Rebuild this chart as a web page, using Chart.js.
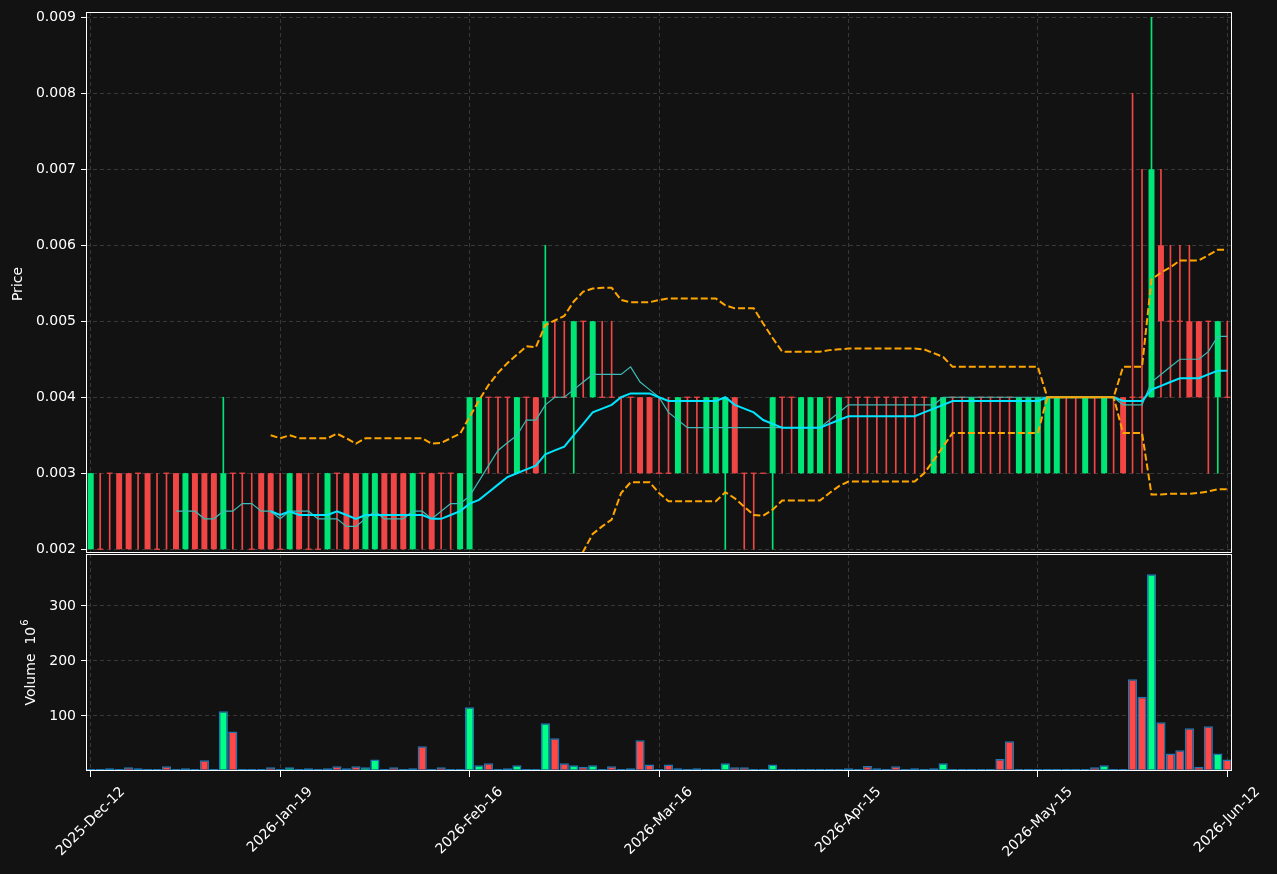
<!DOCTYPE html>
<html><head><meta charset="utf-8">
<script src="https://cdn.jsdelivr.net/npm/chart.js@4.4.1/dist/chart.umd.min.js"></script>
<style>
html,body{margin:0;padding:0;background:#121212;width:1277px;height:874px;overflow:hidden}
#a{position:absolute;left:0;top:0}
#b{position:absolute;left:0;top:553px}
</style></head><body>
<canvas id="a" width="1277" height="554"></canvas>
<canvas id="b" width="1277" height="321"></canvas>
<script>
// ---- data (prices in units of 0.001) ----
const PRICE_UNIT = 0.001;
const tickLabels = ['2025-Dec-12','2026-Jan-19','2026-Feb-16','2026-Mar-16','2026-Apr-15','2026-May-15','2026-Jun-12'];
const tickStep = 20;
const priceTicks = [0.002, 0.003, 0.004, 0.005, 0.006, 0.007, 0.008, 0.009];
const volumeTicks = [100, 200, 300];

const opens = [
 2,2,3,3,3,3,3,2,3,3, 2,3,3,3,2,3,3,2,3,3, 2,2,3,2,2,2,3,3,3,2, 2,3,3,3,2,3,3,3,3,2,
 2,3,4,4,4,3,4,4,4,4, 4,4,5,4,4,4,4,4,4,4, 3,3,3,4,4,3,3,3,4,3, 3,3,3,4,4,3,3,3,4,3,
 4,4,4,4,4,4,4,4,4,3, 3,4,4,3,4,4,4,4,3,3, 3,3,3,4,4,3,4,3,4,4, 4,4,4,6,5,5,5,5,5,4,4];
const highs = [
 3,3,3,3,3,3,3,3,3,3, 3,3,3,3,4,3,3,3,3,3, 3,3,3,3,3,3,3,3,3,3, 3,3,3,3,3,3,3,3,3,3,
 4,4,4,4,4,4,4,4,6,5, 5,5,5,5,5,5,4,4,4,4, 4,4,4,4,4,4,4,4,4,3, 3,3,4,4,4,4,4,4,4,4,
 4,4,4,4,4,4,4,4,4,4, 4,4,4,4,4,4,4,4,4,4, 4,4,4,4,4,4,4,4,4,4, 8,7,9,7,6,6,6,5,5,5,5];
const lows = [
 2,2,2,2,2,2,2,2,2,2, 2,2,2,2,2,2,2,2,2,2, 2,2,2,2,2,2,2,2,2,2, 2,2,2,2,2,2,2,2,2,2,
 2,3,3,3,3,3,3,3,3,4, 4,3,4,4,4,4,3,3,3,3, 3,3,3,3,3,3,3,2,3,2, 2,3,2,3,3,3,3,3,3,3,
 3,3,3,3,3,3,3,3,3,3, 3,3,3,3,3,3,3,3,3,3, 3,3,3,3,3,3,3,3,3,3, 3,3,4,4,4,4,4,4,3,3,4];
const closes = [
 3,2,3,2,2,3,2,2,3,2, 3,2,2,2,3,3,3,2,2,2, 2,3,2,2,2,3,3,2,2,3, 3,2,2,2,3,3,2,3,3,3,
 4,4,4,4,4,4,4,3,5,4, 4,5,5,5,4,4,4,4,3,3, 3,3,4,4,4,4,4,4,3,3, 3,3,4,4,4,4,4,4,4,4,
 4,4,4,4,4,4,4,4,4,4, 4,4,4,4,4,4,4,4,4,4, 4,4,4,4,4,4,4,4,4,3, 4,4,7,5,5,5,4,4,5,5,4];
// volume in millions
const volumes = [
 0.3,0.8,4.8,3,6.7,5,3,3,8.5,3, 5,1,19.4,3,108.5,72,3,3,1,6.7,
 1,6.7,3,5,1,5,8.5,5,8.5,6.7, 21,1,6.7,3,5,45,3,6.7,3,3,
 116,10.3,14,3,5,10.3,0.5,0.5,86.7,59.4, 14,10.3,7.9,10.3,3,8.5,3,5,55.8,12,
 3,12,5,3,4.8,3,0.5,14,6.7,6.7, 3,0.5,12,0.3,3,3,0.3,0.3,0.3,0.3,
 4.8,0.3,9,4.8,0.5,8.5,3,4.8,3,4.8, 14,3,0.5,0.5,3,0.5,21.8,54,0.5,0.5,
 0.5,3,0.5,1.5,0.5,3,6.7,10.3,0.5,3, 166.7,135,357.6,88.5,32,37.6,77.6,7.9,81.2,32,21];
const N9 = [null,null,null,null,null,null,null,null,null];
const ma10 = [...N9,
 2.5, 2.5,2.5,2.4,2.4,2.5,2.5,2.6,2.6,2.5,2.5,
 2.4,2.5,2.5,2.5,2.4,2.4,2.4,2.3,2.3,2.4,
 2.5,2.4,2.4,2.4,2.5,2.5,2.4,2.5,2.6,2.6,
 2.7,2.9,3.1,3.3,3.4,3.5,3.7,3.7,3.9,4.0,
 4.0,4.1,4.2,4.3,4.3,4.3,4.3,4.4,4.2,4.1,
 4.0,3.8,3.7,3.6,3.6,3.6,3.6,3.6,3.6,3.6,
 3.6,3.6,3.6,3.6,3.6,3.6,3.6,3.6,3.7,3.8,
 3.9,3.9,3.9,3.9,3.9,3.9,3.9,3.9,3.9,3.9,
 4.0,4.0,4.0,4.0,4.0,4.0,4.0,4.0,4.0,4.0,
 4.0,4.0,4.0,4.0,4.0,4.0,4.0,4.0,4.0,3.9,
 3.9,3.9,4.2,4.3,4.4,4.5,4.5,4.5,4.6,4.8,4.8];
const N19 = [...N9, null,null,null,null,null,null,null,null,null,null];
const ma20 = [...N19,
 2.5,
 2.45,2.5,2.45,2.45,2.45,2.45,2.5,2.45,2.4,2.45,
 2.45,2.45,2.45,2.45,2.45,2.45,2.4,2.4,2.45,2.5,
 2.6,2.65,2.75,2.85,2.95,3.0,3.05,3.1,3.25,3.3,
 3.35,3.5,3.65,3.8,3.85,3.9,4.0,4.05,4.05,4.05,
 4.0,3.95,3.95,3.95,3.95,3.95,3.95,4.0,3.9,3.85,
 3.8,3.7,3.65,3.6,3.6,3.6,3.6,3.6,3.65,3.7,
 3.75,3.75,3.75,3.75,3.75,3.75,3.75,3.75,3.8,3.85,
 3.9,3.95,3.95,3.95,3.95,3.95,3.95,3.95,3.95,3.95,
 3.95,4.0,4.0,4.0,4.0,4.0,4.0,4.0,4.0,3.95,
 3.95,3.95,4.1,4.15,4.2,4.25,4.25,4.25,4.3,4.35,4.35];
const bbUpper = [...N19,
 3.50,
 3.46,3.50,3.46,3.46,3.46,3.46,3.52,3.46,3.39,3.46,
 3.46,3.46,3.46,3.46,3.46,3.46,3.39,3.40,3.46,3.52,
 3.74,3.96,4.16,4.32,4.45,4.56,4.67,4.66,4.95,5.01,
 5.07,5.26,5.39,5.43,5.44,5.44,5.28,5.25,5.25,5.25,
 5.28,5.30,5.30,5.30,5.30,5.30,5.30,5.21,5.17,5.17,
 5.17,4.97,4.78,4.60,4.60,4.60,4.60,4.60,4.62,4.63,
 4.64,4.64,4.64,4.64,4.64,4.64,4.64,4.64,4.63,4.58,
 4.53,4.40,4.40,4.40,4.40,4.40,4.40,4.40,4.40,4.40,
 4.40,4.00,4.00,4.00,4.00,4.00,4.00,4.00,4.00,4.40,
 4.40,4.40,5.55,5.64,5.71,5.80,5.80,5.80,5.87,5.94,5.94];
const bbLower = [...N19,
 1.50,
 1.44,1.50,1.44,1.44,1.44,1.44,1.48,1.44,1.41,1.44,
 1.44,1.44,1.44,1.44,1.44,1.44,1.41,1.40,1.44,1.48,
 1.46,1.34,1.34,1.38,1.45,1.44,1.43,1.54,1.55,1.59,
 1.63,1.80,1.97,2.20,2.30,2.39,2.74,2.88,2.88,2.88,
 2.74,2.63,2.63,2.63,2.63,2.63,2.63,2.75,2.67,2.56,
 2.45,2.44,2.52,2.64,2.64,2.64,2.64,2.64,2.74,2.83,
 2.89,2.89,2.89,2.89,2.89,2.89,2.89,2.89,3.00,3.17,
 3.35,3.53,3.53,3.53,3.53,3.53,3.53,3.53,3.53,3.53,
 3.53,4.00,4.00,4.00,4.00,4.00,4.00,4.00,4.00,3.53,
 3.53,3.53,2.72,2.72,2.73,2.73,2.73,2.74,2.76,2.79,2.79];

// ---- build ----
const n = closes.length;
const categories = Array.from({length:n}, (_, i) => i % tickStep === 0 ? tickLabels[i / tickStep] : String(i));
const P = v => v == null ? null : v * PRICE_UNIT;
const isUp = i => opens[i] < closes[i];
const candleColors = closes.map((c, i) => isUp(i) ? '#00e676' : '#f04646');
const volColors = closes.map((c, i) => isUp(i) ? '#00ff88' : '#ff4848');
const DOJI = 0.000008;
const bodies = closes.map((c, i) => {
  const lo = Math.min(opens[i], c), hi = Math.max(opens[i], c);
  return lo === hi ? [P(lo) - DOJI, P(hi) + DOJI] : [P(lo), P(hi)];
});
const wicks = closes.map((c, i) => [P(lows[i]), P(highs[i])]);

const FONT = {family: "'DejaVu Sans', sans-serif", size: 14};
const GRID = 'rgba(255,255,255,0.16)';
const DASH = [4, 3];

const frame = {
  id: 'frame',
  afterDraw(chart) {
    const {ctx, chartArea: a} = chart;
    ctx.save();
    ctx.strokeStyle = '#ffffff';
    ctx.lineWidth = 1;
    const l = Math.round(a.left) + 0.5, t = Math.round(a.top) + 0.5;
    const r = Math.round(a.right) - 0.5, b = Math.round(a.bottom) - 0.5;
    ctx.strokeRect(l, t, r - l, b - t);
    ctx.restore();
  }
};
const priceTitle = {
  id: 'priceTitle',
  afterDraw(chart) {
    const ctx = chart.ctx;
    ctx.save();
    ctx.translate(18, 284);
    ctx.rotate(-Math.PI / 2);
    ctx.font = "14px 'DejaVu Sans', sans-serif";
    ctx.fillStyle = '#ffffff';
    ctx.textAlign = 'center';
    ctx.textBaseline = 'middle';
    ctx.fillText('Price', 0, 0);
    ctx.restore();
  }
};
const volDecor = {
  id: 'volDecor',
  afterDraw(chart) {
    const {ctx, chartArea: a} = chart;
    const xs = chart.scales.x;
    ctx.save();
    ctx.fillStyle = '#ffffff';
    ctx.font = "14px 'DejaVu Sans', sans-serif";
    tickLabels.forEach((t, k) => {
      const x = xs.getPixelForValue(k * tickStep);
      const w = ctx.measureText(t).width;
      const cy = a.bottom + 15 + (w + 10) * 0.3536;
      ctx.save();
      ctx.translate(x, cy);
      ctx.rotate(-Math.PI / 4);
      ctx.textAlign = 'center';
      ctx.textBaseline = 'middle';
      ctx.fillText(t, 0, 0);
      ctx.restore();
    });
    const main = 'Volume  10', sup = '6';
    ctx.font = "14px 'DejaVu Sans', sans-serif";
    const wm = ctx.measureText(main).width;
    ctx.font = "10px 'DejaVu Sans', sans-serif";
    const ws = ctx.measureText(sup).width;
    const tot = wm + ws + 1;
    ctx.translate(31, (a.top + a.bottom) / 2);
    ctx.rotate(-Math.PI / 2);
    ctx.textBaseline = 'middle';
    ctx.textAlign = 'left';
    ctx.font = "14px 'DejaVu Sans', sans-serif";
    ctx.fillText(main, -tot / 2, 0);
    ctx.font = "10px 'DejaVu Sans', sans-serif";
    ctx.fillText(sup, -tot / 2 + wm + 1, -6);
    ctx.restore();
  }
};

const xGridColor = c => (c.index % tickStep === 0 ? GRID : 'rgba(0,0,0,0)');
const xTickColor = c => (c.index % tickStep === 0 ? '#ffffff' : 'rgba(0,0,0,0)');
const noPad = s => { s.paddingTop = 0; s.paddingBottom = 0; s.paddingLeft = 0; s.paddingRight = 0; };

new Chart(document.getElementById('a'), {
  type: 'bar',
  data: {
    labels: categories,
    datasets: [
      {type: 'line', data: bbUpper.map(P), borderColor: '#ffa500', borderWidth: 2, borderDash: [7, 3], pointRadius: 0, tension: 0, order: 0},
      {type: 'line', data: bbLower.map(P), borderColor: '#ffa500', borderWidth: 2, borderDash: [7, 3], pointRadius: 0, tension: 0, order: 0},
      {type: 'line', data: ma20.map(P), borderColor: '#00e5ff', borderWidth: 2, pointRadius: 0, tension: 0, order: 1},
      {type: 'line', data: ma10.map(P), borderColor: '#3bbcb4', borderWidth: 1.2, pointRadius: 0, tension: 0, order: 2},
      {data: bodies, backgroundColor: candleColors, barPercentage: 0.63, categoryPercentage: 1, grouped: false, order: 3},
      {data: wicks, backgroundColor: candleColors, barThickness: 1, grouped: false, order: 4}
    ]
  },
  options: {
    responsive: false, animation: false, devicePixelRatio: 1,
    layout: {padding: {left: 0, right: 45, top: 12, bottom: 1}},
    plugins: {legend: {display: false}, tooltip: {enabled: false}},
    scales: {
      x: {
        offset: true,
        grid: {offset: false, color: xGridColor, drawTicks: false, lineWidth: 1},
        border: {display: false, dash: DASH},
        ticks: {display: false, autoSkip: false},
        afterFit: s => { s.height = 0; noPad(s); }
      },
      y: {
        min: 0.00195, max: 0.00907,
        grid: {color: GRID, tickColor: '#ffffff', tickLength: 5, lineWidth: 1},
        border: {display: false, dash: DASH},
        ticks: {color: '#ffffff', font: FONT, padding: 5, callback: v => Number(v).toFixed(3)},
        afterBuildTicks: s => { s.ticks = priceTicks.map(v => ({value: v})); },
        afterFit: s => { s.width = 86; noPad(s); }
      }
    }
  },
  plugins: [frame, priceTitle]
});

new Chart(document.getElementById('b'), {
  type: 'bar',
  data: {
    labels: categories,
    datasets: [{
      data: volumes, backgroundColor: volColors, borderColor: '#1f77b4', borderWidth: 1.5,
      borderSkipped: false, minBarLength: 2, barPercentage: 1, categoryPercentage: 0.97
    }]
  },
  options: {
    responsive: false, animation: false, devicePixelRatio: 1,
    layout: {padding: {left: 0, right: 45, top: 1, bottom: 0}},
    plugins: {legend: {display: false}, tooltip: {enabled: false}},
    scales: {
      x: {
        offset: true,
        grid: {offset: false, color: xGridColor, tickColor: xTickColor, drawTicks: true, tickLength: 6, lineWidth: 1},
        border: {display: false, dash: DASH},
        ticks: {display: false, autoSkip: false},
        afterFit: s => { s.height = 103; noPad(s); }
      },
      y: {
        min: 0, max: 394.5,
        grid: {color: GRID, tickColor: '#ffffff', tickLength: 5, lineWidth: 1},
        border: {display: false, dash: DASH},
        ticks: {color: '#ffffff', font: FONT, padding: 5, callback: v => String(v)},
        afterBuildTicks: s => { s.ticks = volumeTicks.map(v => ({value: v})); },
        afterFit: s => { s.width = 86; noPad(s); }
      }
    }
  },
  plugins: [frame, volDecor]
});
</script></body></html>
